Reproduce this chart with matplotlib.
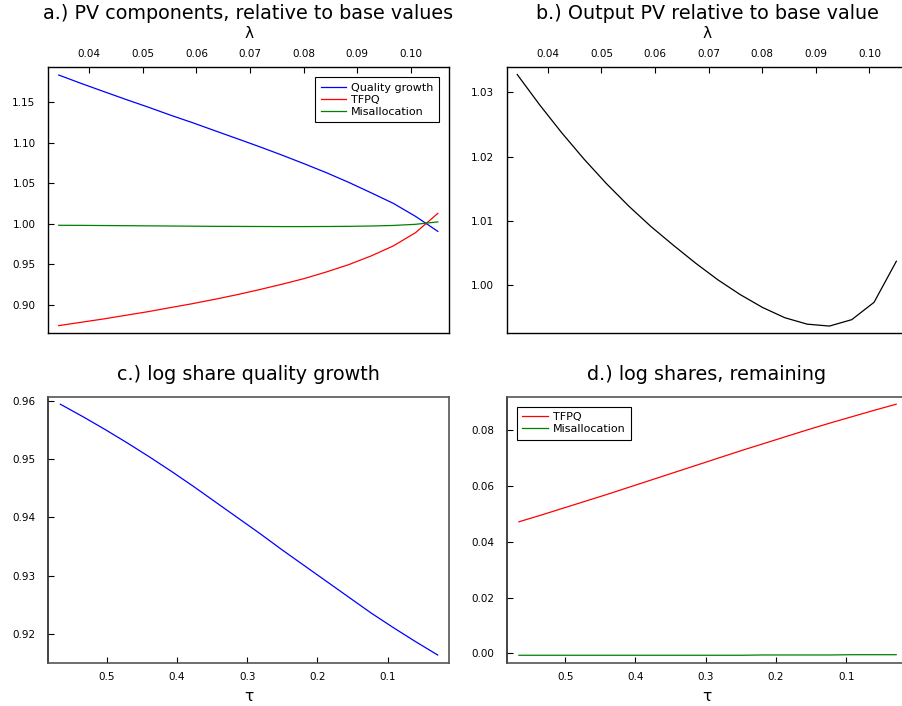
import matplotlib.pyplot as plt
from matplotlib.ticker import FormatStrFormatter

# top row: x is lambda
lam = [0.0343, 0.03846, 0.04262, 0.04678, 0.05094, 0.0551, 0.05926, 0.06342, 0.06758,
       0.07174, 0.0759, 0.08006, 0.08422, 0.08838, 0.09254, 0.0967, 0.10086, 0.10502]
pv_quality = [1.1834, 1.1731, 1.1632, 1.1534, 1.1439, 1.1340, 1.1246, 1.1147, 1.1049,
              1.0950, 1.0847, 1.0740, 1.0629, 1.0510, 1.0382, 1.0251, 1.0090, 0.9905]
pv_tfpq = [0.8742, 0.8783, 0.8824, 0.8869, 0.8914, 0.8964, 0.9013, 0.9067, 0.9124,
           0.9186, 0.9252, 0.9322, 0.9404, 0.9494, 0.9601, 0.9725, 0.9889, 1.0127]
pv_misalloc = [0.9980, 0.9979, 0.9977, 0.9975, 0.9973, 0.9971, 0.9969, 0.9967, 0.9966,
               0.9965, 0.9964, 0.9964, 0.9965, 0.9967, 0.9971, 0.9978, 0.9992, 1.0022]
pv_output = [1.0328, 1.0281, 1.0237, 1.0196, 1.0158, 1.0123, 1.0091, 1.0062, 1.0034,
             1.0008, 0.9985, 0.9965, 0.9949, 0.9939, 0.9936, 0.9946, 0.9973, 1.0037]

# bottom row: x is tau
tau = [0.566, 0.5344, 0.5028, 0.4712, 0.4396, 0.408, 0.3764, 0.3448, 0.3132,
       0.2816, 0.25, 0.2184, 0.1868, 0.1552, 0.1236, 0.092, 0.0604, 0.0288]
share_quality = [0.9594, 0.9573, 0.9551, 0.9528, 0.9504, 0.9479, 0.9453, 0.9426, 0.9399,
                 0.9372, 0.9344, 0.9317, 0.9290, 0.9263, 0.9236, 0.9211, 0.9187, 0.9164]
share_tfpq = [0.0472, 0.0496, 0.0521, 0.0546, 0.0571, 0.0597, 0.0623, 0.0649, 0.0675,
              0.0701, 0.0727, 0.0752, 0.0777, 0.0802, 0.0826, 0.0849, 0.0872, 0.0894]
share_misalloc = [-0.0007, -0.0007, -0.0007, -0.0007, -0.0007, -0.0007, -0.0007, -0.0007, -0.0007,
                  -0.0007, -0.0007, -0.0006, -0.0006, -0.0006, -0.0006, -0.0005, -0.0005, -0.0005]

W, H = 902, 706
fig = plt.figure(figsize=(W / 100, H / 100), dpi=100)

def box(l, t, w=401, h=266):
    return [l / W, (H - t - h) / H, w / W, h / H]

ax_a = fig.add_axes(box(48, 67))
ax_b = fig.add_axes(box(506.5, 67))
ax_c = fig.add_axes(box(48, 396.7))
ax_d = fig.add_axes(box(506.5, 396.7))

lw = 0.9
ax_a.plot(lam, pv_quality, color='#0000ff', lw=lw, label='Quality growth')
ax_a.plot(lam, pv_tfpq, color='#ff0000', lw=lw, label='TFPQ')
ax_a.plot(lam, pv_misalloc, color='#008000', lw=lw, label='Misallocation')
ax_b.plot(lam, pv_output, color='black', lw=lw)
ax_c.plot(tau, share_quality, color='#0000ff', lw=lw)
ax_d.plot(tau, share_tfpq, color='#ff0000', lw=lw, label='TFPQ')
ax_d.plot(tau, share_misalloc, color='#008000', lw=lw, label='Misallocation')

ax_a.set_ylim(0.8651, 1.1933)
ax_b.set_ylim(0.99252, 1.03397)
ax_c.set_ylim(0.91508, 0.96069)
ax_d.set_ylim(-0.00337, 0.0921)

ax_a.set_yticks([0.90, 0.95, 1.00, 1.05, 1.10, 1.15])
ax_b.set_yticks([1.00, 1.01, 1.02, 1.03])
ax_c.set_yticks([0.92, 0.93, 0.94, 0.95, 0.96])
ax_d.set_yticks([0.00, 0.02, 0.04, 0.06, 0.08])

for ax in (ax_a, ax_b):
    ax.set_xlim(0.0323, 0.1071)
    ax.set_xticks([0.04, 0.05, 0.06, 0.07, 0.08, 0.09, 0.10])
    ax.xaxis.set_major_formatter(FormatStrFormatter('%.2f'))
    ax.xaxis.tick_top()
    ax.xaxis.set_label_position('top')
    ax.set_xlabel('λ', fontsize=11, labelpad=8)
    ax.tick_params(axis='x', pad=5.5)
    for s in ax.spines.values():
        s.set_color('black')
        s.set_linewidth(1.0)

for ax in (ax_c, ax_d):
    ax.set_xlim(0.5836, 0.0127)
    ax.set_xticks([0.5, 0.4, 0.3, 0.2, 0.1])
    ax.xaxis.set_major_formatter(FormatStrFormatter('%.1f'))
    ax.set_xlabel('τ', fontsize=11, labelpad=5)
    ax.tick_params(axis='x', pad=7)
    for s in ax.spines.values():
        s.set_color('#555555')
        s.set_linewidth(1.2)
    ax.spines['left'].set_color('#222222')

for ax in (ax_a, ax_b, ax_c, ax_d):
    ax.yaxis.set_major_formatter(FormatStrFormatter('%.2f'))
    ax.tick_params(direction='in', length=4, width=0.8, labelsize=7.5,
                   top=False, right=False)
    ax.tick_params(axis='y', pad=9)
    ax.tick_params(axis='x', top=ax in (ax_a, ax_b), bottom=ax in (ax_c, ax_d))

ax_a.set_title('a.) PV components, relative to base values', fontsize=13.8, pad=5.5)
ax_b.set_title('b.) Output PV relative to base value', fontsize=13.8, pad=5.5)
ax_c.set_title('c.) log share quality growth', fontsize=13.8, pad=12)
ax_d.set_title('d.) log shares, remaining', fontsize=13.8, pad=12)

leg_kw = dict(fontsize=8, fancybox=False, edgecolor='black', framealpha=1,
              handlelength=2.3, handletextpad=0.45, borderpad=0.5, labelspacing=0.18,
              borderaxespad=0.9)
la = ax_a.legend(loc='upper right', **leg_kw)
ld = ax_d.legend(loc='upper left', **leg_kw)
for lg in (la, ld):
    lg.get_frame().set_linewidth(0.8)

fig.savefig('out.png', dpi=100)
